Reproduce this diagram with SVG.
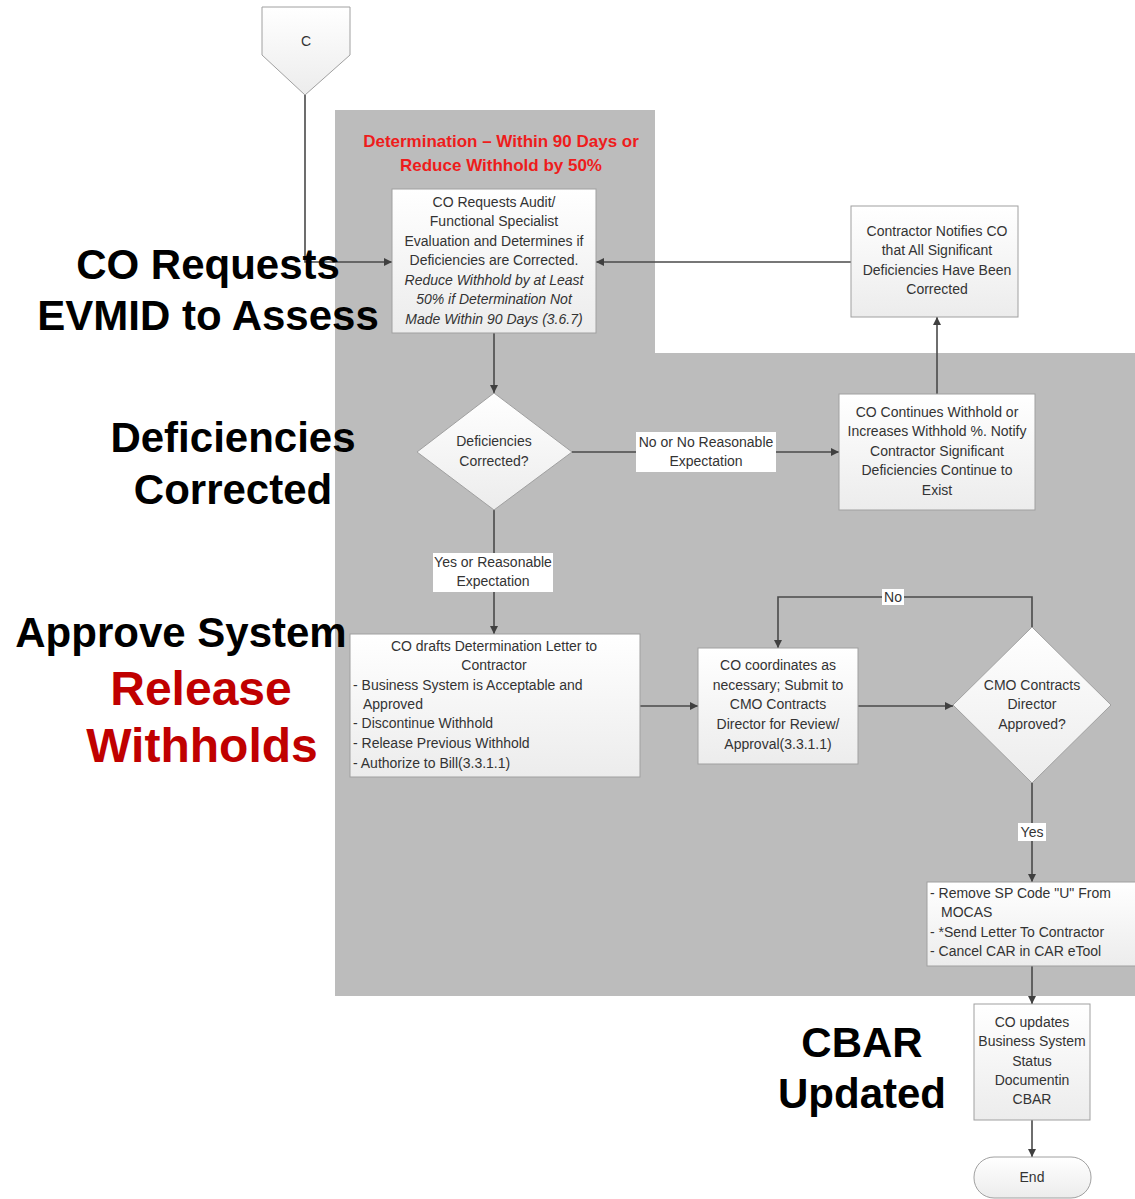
<svg xmlns="http://www.w3.org/2000/svg" width="1135" height="1199" viewBox="0 0 1135 1199">
<defs>
<linearGradient id="g" x1="0" y1="0" x2="0" y2="1"><stop offset="0" stop-color="#ffffff"/><stop offset="1" stop-color="#ececec"/></linearGradient>
<marker id="ah" viewBox="0 0 10 10" refX="10" refY="5" markerWidth="8" markerHeight="8" markerUnits="userSpaceOnUse" orient="auto"><path d="M0,0 L10,5 L0,10 z" fill="#404040"/></marker>
<style>
.n{fill:url(#g);stroke:#a0a0a0;stroke-width:1}
.t{font-family:"Liberation Sans",Arial,sans-serif;font-size:14px;fill:#333}
.c{text-anchor:middle}
.i{font-style:italic}
.e{stroke:#4a4a4a;stroke-width:1.6;fill:none;marker-end:url(#ah)}
.lb{fill:#fff}
.big{font-family:"Liberation Sans",Arial,sans-serif;font-size:42px;font-weight:bold;fill:#000;text-anchor:middle}
.red{fill:#c00000;font-size:48px}
</style>
</defs>
<rect width="1135" height="1199" fill="#fff"/>
<polygon points="335,110 655,110 655,353 1135,353 1135,996 335,996" fill="#bcbcbc"/>
<text x="501" y="147" font-family="Liberation Sans,Arial,sans-serif" font-size="17" font-weight="bold" fill="#ee1c1c" text-anchor="middle">Determination – Within 90 Days or</text>
<text x="501" y="171" font-family="Liberation Sans,Arial,sans-serif" font-size="17" font-weight="bold" fill="#ee1c1c" text-anchor="middle">Reduce Withhold by 50%</text>

<g id="connectors">
<polyline class="e" points="305,95 305,262 392,262"/>
<line class="e" x1="851" y1="262" x2="596" y2="262"/>
<line class="e" x1="494" y1="333" x2="494" y2="393"/>
<line class="e" x1="937" y1="394" x2="937" y2="317"/>
<line class="e" x1="572" y1="452" x2="839" y2="452"/>
<rect class="lb" x="636" y="432" width="140" height="40"/>
<text class="t c" x="706" y="447">No or No Reasonable</text>
<text class="t c" x="706" y="466">Expectation</text>
<line class="e" x1="494" y1="510" x2="494" y2="634"/>
<rect class="lb" x="433" y="553" width="120" height="39"/>
<text class="t c" x="493" y="567">Yes or Reasonable</text>
<text class="t c" x="493" y="586">Expectation</text>
<line class="e" x1="640" y1="706" x2="698" y2="706"/>
<line class="e" x1="858" y1="706" x2="953" y2="706"/>
<polyline class="e" points="1032,627 1032,597 778,597 778,648"/>
<rect class="lb" x="882" y="589" width="22" height="16"/>
<text class="t c" x="893" y="602">No</text>
<line class="e" x1="1032" y1="783" x2="1032" y2="882"/>
<rect class="lb" x="1018" y="823" width="28" height="18"/>
<text class="t c" x="1032" y="837">Yes</text>
<line class="e" x1="1032" y1="966" x2="1032" y2="1004"/>
<line class="e" x1="1032" y1="1120" x2="1032" y2="1157"/>
</g>

<g id="offpage-c">
<polygon class="n" points="262,7 350,7 350,55 305,95 262,55"/>
<text class="t c" x="306" y="46">C</text>
</g>

<g id="co-requests-audit">
<rect class="n" x="392" y="189" width="204" height="144"/>
<text class="t c" x="494" y="207">CO Requests Audit/</text>
<text class="t c" x="494" y="226">Functional Specialist</text>
<text class="t c" x="494" y="246">Evaluation and Determines if</text>
<text class="t c" x="494" y="265">Deficiencies are Corrected.</text>
<text class="t c i" x="494" y="285">Reduce Withhold by at Least</text>
<text class="t c i" x="494" y="304">50% if Determination Not</text>
<text class="t c i" x="494" y="324">Made Within 90 Days (3.6.7)</text>
</g>

<g id="contractor-notifies">
<rect class="n" x="851" y="206" width="167" height="111"/>
<text class="t c" x="937" y="236">Contractor Notifies CO</text>
<text class="t c" x="937" y="255">that All Significant</text>
<text class="t c" x="937" y="275">Deficiencies Have Been</text>
<text class="t c" x="937" y="294">Corrected</text>
</g>

<g id="deficiencies-corrected">
<polygon class="n" points="494,393 572,452 494,510 417,452"/>
<text class="t c" x="494" y="446">Deficiencies</text>
<text class="t c" x="494" y="466">Corrected?</text>
</g>

<g id="co-continues-withhold">
<rect class="n" x="839" y="394" width="196" height="116"/>
<text class="t c" x="937" y="417">CO Continues Withhold or</text>
<text class="t c" x="937" y="436">Increases Withhold %. Notify</text>
<text class="t c" x="937" y="456">Contractor Significant</text>
<text class="t c" x="937" y="475">Deficiencies Continue to</text>
<text class="t c" x="937" y="495">Exist</text>
</g>

<g id="co-drafts-letter">
<rect class="n" x="350" y="634" width="290" height="143"/>
<text class="t c" x="494" y="651">CO drafts Determination Letter to</text>
<text class="t c" x="494" y="670">Contractor</text>
<text class="t" x="353" y="690">- Business System is Acceptable and</text>
<text class="t" x="363" y="709">Approved</text>
<text class="t" x="353" y="728">- Discontinue Withhold</text>
<text class="t" x="353" y="748">- Release Previous Withhold</text>
<text class="t" x="353" y="768">- Authorize to Bill(3.3.1.1)</text>
</g>

<g id="co-coordinates">
<rect class="n" x="698" y="648" width="160" height="116"/>
<text class="t c" x="778" y="670">CO coordinates as</text>
<text class="t c" x="778" y="690">necessary; Submit to</text>
<text class="t c" x="778" y="709">CMO Contracts</text>
<text class="t c" x="778" y="729">Director for Review/</text>
<text class="t c" x="778" y="749">Approval(3.3.1.1)</text>
</g>

<g id="cmo-approved">
<polygon class="n" points="1032,627 1111,705 1032,783 953,705"/>
<text class="t c" x="1032" y="690">CMO Contracts</text>
<text class="t c" x="1032" y="709">Director</text>
<text class="t c" x="1032" y="729">Approved?</text>
</g>

<g id="remove-sp-code">
<rect class="n" x="927" y="882" width="212" height="84"/>
<text class="t" x="930" y="898">- Remove SP Code "U" From</text>
<text class="t" x="941" y="917">MOCAS</text>
<text class="t" x="930" y="937">- *Send Letter To Contractor</text>
<text class="t" x="930" y="956">- Cancel CAR in CAR eTool</text>
</g>

<g id="co-updates">
<rect class="n" x="974" y="1004" width="116" height="116"/>
<text class="t c" x="1032" y="1027">CO updates</text>
<text class="t c" x="1032" y="1046">Business System</text>
<text class="t c" x="1032" y="1066">Status</text>
<text class="t c" x="1032" y="1085">Documentin</text>
<text class="t c" x="1032" y="1104">CBAR</text>
</g>

<g id="end">
<rect class="n" x="974" y="1157" width="117" height="41" rx="20" ry="20"/>
<text class="t c" x="1032" y="1182">End</text>
</g>

<g id="annotations">
<text class="big" x="208" y="279">CO Requests</text>
<text class="big" x="208" y="330">EVMID to Assess</text>
<text class="big" x="233" y="452">Deficiencies</text>
<text class="big" x="233" y="504">Corrected</text>
<text class="big" x="181" y="647">Approve System</text>
<text class="big red" x="201" y="705">Release</text>
<text class="big red" x="202" y="762">Withholds</text>
<text class="big" x="862" y="1057">CBAR</text>
<text class="big" x="862" y="1108">Updated</text>
</g>
</svg>
